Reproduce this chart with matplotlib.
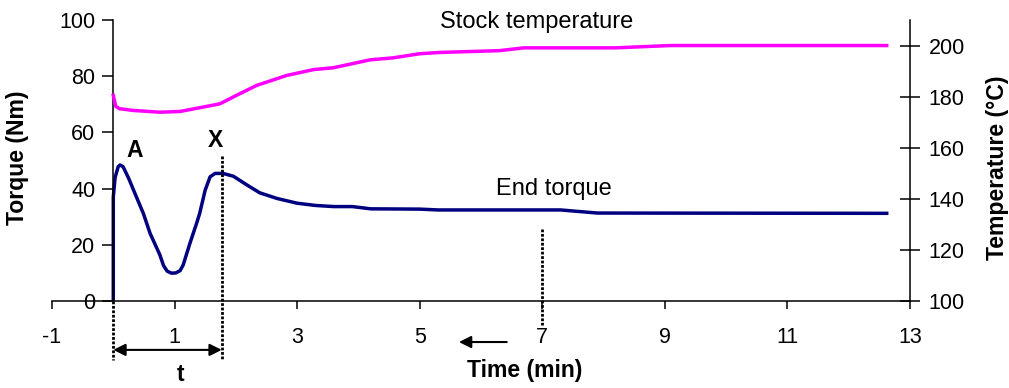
import matplotlib.pyplot as plt

plt.rcParams['font.family'] = ['Liberation Sans', 'DejaVu Sans']
plt.rcParams['axes.unicode_minus'] = False

# end torque (Nm) against time (min)
timeTorque = [0, 0, 0.03, 0.08, 0.11, 0.16, 0.25, 0.33, 0.49, 0.60, 0.76, 0.82, 0.88, 0.95,
              1.02, 1.09, 1.14, 1.25, 1.36, 1.41, 1.50, 1.58, 1.66, 1.79, 1.96, 2.18, 2.39,
              2.67, 3.0, 3.3, 3.6, 3.9, 4.2, 5.0, 5.3, 7.3, 7.9, 12.62]
torque = [0, 37, 44, 47.8, 48.4, 47.8, 43.7, 39.5, 31.2, 24.1, 16.4, 12.6, 10.6, 9.9,
          10.0, 10.8, 12.8, 20.5, 27.7, 31.2, 39.5, 44.2, 45.4, 45.4, 44.4, 41.3, 38.5,
          36.5, 34.8, 34.0, 33.6, 33.6, 32.8, 32.7, 32.4, 32.4, 31.3, 31.2]

# stock temperature (°C) against time (min)
timeTemp = [0, 0.04, 0.1, 0.32, 0.76, 1.09, 1.42, 1.74, 2.01, 2.34, 2.83, 3.27, 3.59,
            4.19, 4.57, 5.0, 5.33, 6.3, 6.7, 8.2, 9.08, 12.62]
temperature = [180.5, 176.2, 175.3, 174.6, 173.9, 174.2, 175.7, 177.2, 180.5, 184.4, 188.3,
               190.6, 191.3, 194.4, 195.2, 196.8, 197.3, 198.0, 199.1, 199.1, 200.0, 200.0]

xTicks = [-1, 1, 3, 5, 7, 9, 11, 13]
torqueTicks = [0, 20, 40, 60, 80, 100]
tempTicks = [100, 120, 140, 160, 180, 200]

# marked times: start, point X, and the dotted mark at 7 min
tStart, tX, tMark = 0, 1.77, 7.0

navy = '#000080'
magenta = '#FF00FF'

fig = plt.figure(figsize=(10.09, 3.88), dpi=100)
ax = fig.add_axes([52 / 1009, 87 / 388, 858 / 1009, 281 / 388])
ax.set_xlim(-1, 13)
ax.set_ylim(0, 100)
ax.spines['top'].set_visible(False)
ax.spines['right'].set_visible(False)
ax.spines['left'].set_position(('data', 0))
for s in ('left', 'bottom'):
    ax.spines[s].set_linewidth(1.1)
ax.set_xticks(xTicks)
ax.set_yticks(torqueTicks)
ax.tick_params(axis='x', direction='out', length=6, width=1.1, pad=13, labelsize=15.5)
ax.tick_params(axis='y', direction='out', length=8, width=1.1, pad=5, labelsize=15.5)

ax.plot(timeTorque, torque, color=navy, lw=2.5, solid_joinstyle='round')

ax2 = ax.twinx()
ax2.set_ylim(100, 210)
for s in ('top', 'left', 'bottom'):
    ax2.spines[s].set_visible(False)
ax2.spines['right'].set_linewidth(1.1)
ax2.set_yticks(tempTicks)
ax2.tick_params(axis='y', direction='inout', length=15, width=1.1, pad=6, labelsize=15.5)
ax2.plot(timeTemp, temperature, color=magenta, lw=2.5, solid_joinstyle='round')

# axis titles
ax.set_ylabel('Torque (Nm)', fontsize=16.6, fontweight='bold')
ax.yaxis.set_label_coords(-0.027, 0.51)
ax2.set_ylabel('Temperature (°C)', fontsize=16.6, fontweight='bold')
ax2.yaxis.set_label_coords(1.089, 0.473)
fig.text(525 / 1009, 1 - 371 / 388, 'Time (min)', fontsize=16.6, fontweight='bold',
         ha='center', va='center')

# annotations
ax.text(6.9, 99.4, 'Stock temperature', fontsize=17, ha='center', va='center', clip_on=False)
ax.text(7.19, 40.0, 'End torque', fontsize=17, ha='center', va='center')
ax.text(0.355, 53.4, 'A', fontsize=16.5, fontweight='bold', ha='center', va='center')
ax.text(1.667, 57.1, 'X', fontsize=16.5, fontweight='bold', ha='center', va='center')
ax.text(1.10, -26.3, 't', fontsize=16.5, fontweight='bold', ha='center', va='center',
        clip_on=False)

dotted = dict(color='black', lw=2, dashes=(1, 0.6), clip_on=False)
ax.plot([tStart, tStart], [0, -21], **dotted)
ax.plot([tX, tX], [51.6, -21], **dotted)
ax.plot([tMark, tMark], [25.6, -8.5], **dotted)

ax.annotate('', xy=(tX, -17.4), xytext=(tStart, -17.4), annotation_clip=False,
            arrowprops=dict(arrowstyle='<|-|>', color='black', lw=1.5,
                            mutation_scale=18, shrinkA=0, shrinkB=0))
ax.annotate('', xy=(5.64, -14.6), xytext=(6.42, -14.6), annotation_clip=False,
            arrowprops=dict(arrowstyle='-|>', color='black', lw=1.5,
                            mutation_scale=18, shrinkA=0, shrinkB=0))

fig.savefig('out.png', dpi=100)
